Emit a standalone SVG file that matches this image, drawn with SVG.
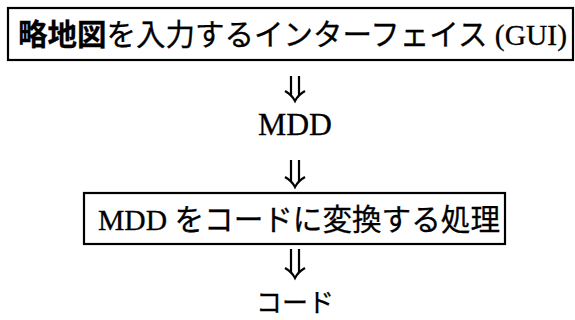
<svg xmlns="http://www.w3.org/2000/svg" width="575" height="320" viewBox="0 0 575 320">
<style>
.box{fill:#fff;stroke:#000;stroke-width:2.2}
.t{font-family:"Liberation Serif","Noto Sans CJK JP",serif;fill:#000;stroke:#000;stroke-width:0.3}
.arr{fill:none;stroke:#000;stroke-width:2.2}
</style>
<rect width="575" height="320" fill="#fff"/>
<g id="gui">
<rect class="box" x="8" y="8" width="565" height="52"/>
<text class="t" x="18" y="45" font-size="30" textLength="549" lengthAdjust="spacingAndGlyphs"><tspan font-weight="bold">略地図</tspan>を入力するインターフェイス (GUI)</text>
</g>
<g id="mdd">
<text class="t" x="258" y="135" font-size="31" textLength="74" lengthAdjust="spacingAndGlyphs">MDD</text>
</g>
<g id="convert">
<rect class="box" x="84" y="193" width="421" height="51"/>
<text class="t" x="98" y="230" font-size="30" textLength="402" lengthAdjust="spacingAndGlyphs">MDD をコードに変換する処理</text>
</g>
<g id="code">
<text class="t" x="256" y="312" font-size="26" textLength="78" lengthAdjust="spacingAndGlyphs">コード</text>
</g>
<g id="connectors">
<path class="arr" d="M291,76 V95 M299,76 V95 M285,91 Q292,95 295,101 Q298,95 305,91"/>
<path class="arr" d="M291,160 V181 M299,160 V181 M285,177 Q292,181 295,187 Q298,181 305,177"/>
<path class="arr" d="M291,249 V272 M299,249 V272 M285,268 Q292,272 295,278 Q298,272 305,268"/>
</g>
</svg>
